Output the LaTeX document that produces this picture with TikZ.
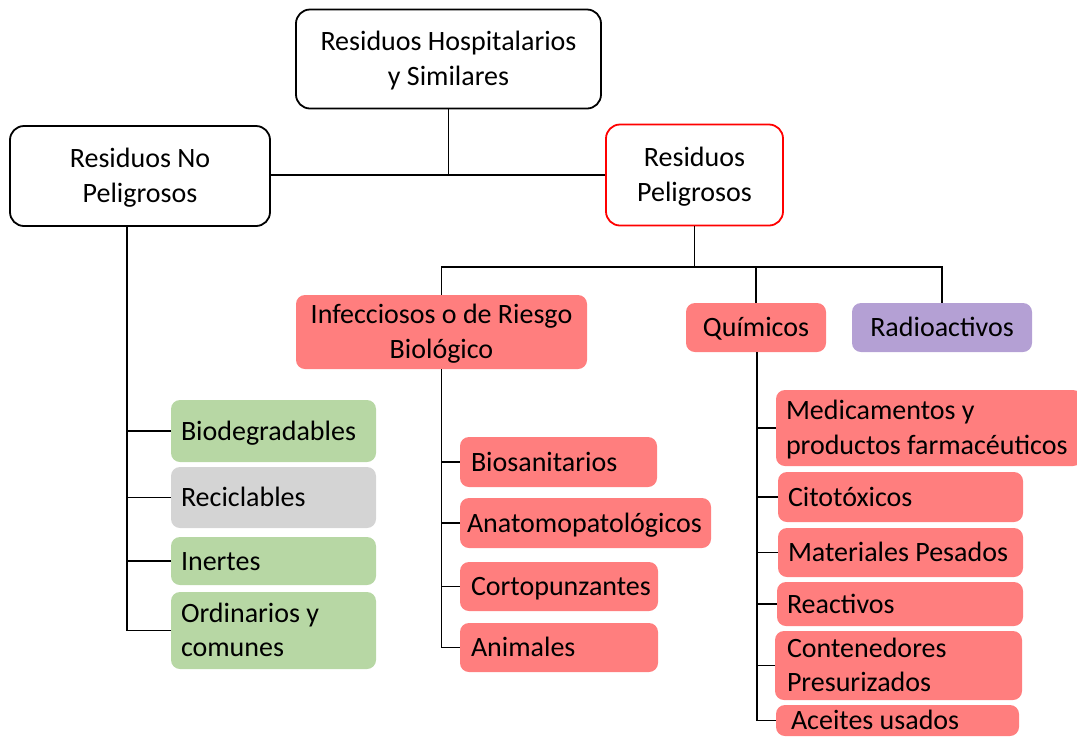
\documentclass[tikz,border=0pt]{standalone}
\usepackage{fontspec}
\setmainfont{Carlito}
\usepackage{tikz}
\usetikzlibrary{shapes}
\definecolor{rojoclaro}{RGB}{255,126,126}
\definecolor{verdeclaro}{RGB}{183,215,164}
\definecolor{grisclaro}{RGB}{212,212,212}
\definecolor{moradoclaro}{RGB}{180,160,212}
\newcommand{\puntal}{\rule[-6pt]{0pt}{30pt}}
\tikzset{node distance=2cm, auto}

\begin{document}
\begin{tikzpicture}[x=1pt,y=-1pt,font=\fontsize{28}{34.5}\selectfont]
\tikzset{caja/.style={draw=black, line width=1.8pt, rounded corners=14pt, fill=white, align=flush center,
                      inner ysep=0pt, inner xsep=10pt,
                      execute at begin node=\puntal, execute at end node=\puntal},
         hoja/.style={rounded corners=9pt, align=flush left, inner ysep=0pt, inner xsep=11pt,
                      execute at begin node=\puntal, execute at end node=\puntal},
         enlace/.style={line width=1.8pt}}
\useasboundingbox (0,0) rectangle (1077,740);

\node[caja, text width=285pt, minimum height=99pt] (hosp) at (448.5,59) {Residuos Hospitalarios\\y Similares};
\node[caja, text width=240pt, minimum height=100pt] (np) at (140,176) {Residuos No\\Peligrosos};
\node[caja, draw=red, text width=157pt, minimum height=101pt] (pel) at (694.5,175) {Residuos\\Peligrosos};

\node[hoja, fill=rojoclaro, align=flush center, inner xsep=10pt, text width=271pt, minimum height=74pt] (inf) at (441.5,332) {Infecciosos o de Riesgo\\Biológico};
\node[hoja, fill=rojoclaro, align=flush center, inner xsep=10pt, text width=120pt, minimum height=49pt] (qui) at (756,327.5) {Químicos};
\node[hoja, fill=moradoclaro, align=flush center, inner xsep=10pt, text width=160pt, minimum height=49pt] (rad) at (942,327.5) {Radioactivos};

\node[hoja, fill=verdeclaro, inner xsep=10pt, text width=185pt, minimum height=62pt] (bio) at (273.5,431) {Biodegradables};
\node[hoja, fill=grisclaro, inner xsep=10pt, text width=185pt, minimum height=61pt] (rec) at (273.5,497.5) {Reciclables};
\node[hoja, fill=verdeclaro, inner xsep=10pt, text width=185pt, minimum height=48pt] (ine) at (273.5,561) {Inertes};
\node[hoja, fill=verdeclaro, inner xsep=10pt, text width=185pt, minimum height=77pt] (ord) at (273.5,630.5) {Ordinarios y\\comunes};

\node[hoja, fill=rojoclaro, text width=175pt, minimum height=50pt] (bios) at (558.5,462) {Biosanitarios};
\node[hoja, fill=rojoclaro, inner xsep=7pt, text width=237pt, minimum height=50pt] (anat) at (585.5,523) {Anatomopatológicos};
\node[hoja, fill=rojoclaro, text width=176pt, minimum height=49pt] (cort) at (559,586.5) {Cortopunzantes};
\node[hoja, fill=rojoclaro, text width=176pt, minimum height=49pt] (anim) at (559,647.5) {Animales};

\node[hoja, fill=rojoclaro, inner xsep=10pt, text width=286pt, minimum height=76pt] (med) at (929,428) {Medicamentos y\\productos farmacéuticos};
\node[hoja, fill=rojoclaro, inner xsep=10pt, text width=225pt, minimum height=50pt] (cit) at (900.5,497) {Citotóxicos};
\node[hoja, fill=rojoclaro, inner xsep=10pt, text width=225pt, minimum height=49pt] (mat) at (900.5,552.5) {Materiales Pesados};
\node[hoja, fill=rojoclaro, inner xsep=10pt, text width=226pt, minimum height=44pt] (rea) at (900,604) {Reactivos};
\node[hoja, fill=rojoclaro, inner xsep=12pt, text width=223pt, minimum height=69pt] (con) at (898.5,665.5) {Contenedores\\Presurizados};
\node[hoja, fill=rojoclaro, inner xsep=15pt, text width=213pt, minimum height=31pt] (ace) at (897.5,720.5) {Aceites usados};

\coordinate (barra) at (694,267);
\coordinate (tnp) at (127,0);
\coordinate (tqui) at (757,0);

\draw[enlace] (hosp.south) -- (hosp.south |- pel.west);
\draw[enlace] (np.east |- pel.west) -- (pel.west);
\draw[enlace] (pel.south) -- (pel.south |- barra);
\draw[enlace] (inf.north) |- (rad.north |- barra) -- (rad.north);
\draw[enlace] (qui.north) -- (qui.north |- barra);

\draw[enlace] (np.south -| tnp) |- (ord.west);
\foreach \n in {bio,rec,ine}
  \draw[enlace] (\n.west) -- (\n.west -| tnp);

\draw[enlace] (inf.south) |- (anim.west);
\foreach \n in {bios,anat,cort}
  \draw[enlace] (\n.west) -- (\n.west -| inf.south);

\draw[enlace] (qui.south -| tqui) |- (ace.west);
\foreach \n in {med,cit,mat,rea,con}
  \draw[enlace] (\n.west) -- (\n.west -| tqui);

\end{tikzpicture}
\end{document}
